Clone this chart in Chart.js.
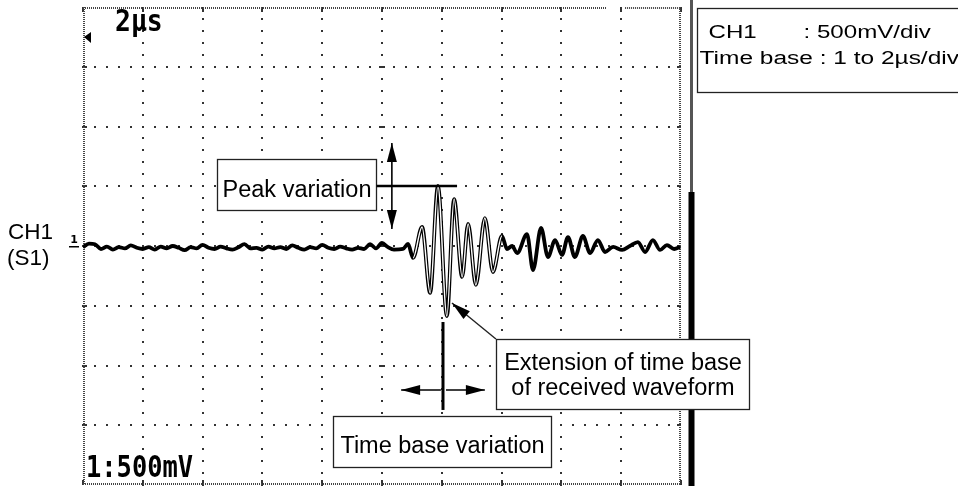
<!DOCTYPE html>
<html>
<head>
<meta charset="utf-8">
<script src="https://cdn.jsdelivr.net/npm/chart.js@4.4.0/dist/chart.umd.min.js"></script>
<style>
  body { margin: 0; background: #fff; }
  #wrap { width: 958px; height: 486px; }
</style>
</head>
<body>
<div id="wrap"><canvas id="scopeChart" width="958" height="486"></canvas></div>
<script>
// CH1 trace: time in us, level in mV
const timeUs = [
  0.0, 0.2, 0.4, 0.6, 0.8, 1.0, 1.2, 1.4, 1.6, 1.8,
  2.0, 2.2, 2.4, 2.6, 2.8, 3.0, 3.2, 3.4, 3.6, 3.8,
  4.0, 4.2, 4.4, 4.6, 4.8, 5.0, 5.2, 5.4, 5.6, 5.8,
  6.0, 6.2, 6.4, 6.6, 6.8, 7.0, 7.2, 7.4, 7.6, 7.8,
  8.0, 8.2, 8.4, 8.6, 8.8, 9.0, 9.2, 9.4, 9.6, 9.8,
  10.0, 10.2, 10.4, 10.7, 10.87, 11.04, 11.34, 11.61, 11.87, 12.17,
  12.41, 12.68, 12.88, 13.14, 13.44, 13.71, 14.01, 14.18, 14.35, 14.52,
  14.85, 15.05, 15.32, 15.55, 15.79, 16.02, 16.22, 16.45, 16.72, 16.96,
  17.22, 17.46, 17.73, 18.03, 18.29, 18.56, 18.80, 19.06, 19.30, 19.53,
  19.77, 19.97
];
const ch1mV = [
  -10, 20, 15, -25, -5, -30, -10, -20, 5, -15,
  -25, -10, -30, -5, -20, 0, -15, -35, -10, -20,
  10, -15, -25, -5, -20, -30, -10, 15, -20, -15,
  -30, -5, -20, -10, -25, 5, -15, -30, -10, -20,
  10, -15, -25, -5, -20, -30, -15, -25, 15, -20,
  25, -10, -30, -25, 17, -100, 159, -393, 502, -586,
  393, -259, 184, -326, 234, -218, 84, -25, 0, -59,
  100, -201, 151, -92, 50, -75, 75, -92, 84, -59,
  50, -50, -8, -33, 0, 33, -50, 50, -33, 8,
  -25, -8
];
const timeTicks = [0, 2, 4, 6, 8, 10, 12, 14, 16, 18, 20];
const voltTicks = [-2000, -1500, -1000, -500, 0, 500, 1000, 1500, 2000];
const peakLevel = 502;
const scopeText = ["2µs", "1:500mV"];
const sideText = ["CH1", "(S1)"];
const legendText = ["CH1", ": 500mV/div", "Time base : 1 to 2µs/div"];
const peakNote = "Peak variation";
const timeNote = "Time base variation";
const extNote = ["Extension of time base", "of received waveform"];

const points = timeUs.map((t, i) => ({ x: t, y: ch1mV[i] }));

function arrowHead(ctx, x0, y0, x1, y1, len, half) {
  const a = Math.atan2(y1 - y0, x1 - x0);
  ctx.beginPath();
  ctx.moveTo(x1, y1);
  ctx.lineTo(x1 - len * Math.cos(a) + half * Math.sin(a), y1 - len * Math.sin(a) - half * Math.cos(a));
  ctx.lineTo(x1 - len * Math.cos(a) - half * Math.sin(a), y1 - len * Math.sin(a) + half * Math.cos(a));
  ctx.closePath();
  ctx.fill();
}

function arrow(ctx, x0, y0, x1, y1) {
  ctx.beginPath();
  ctx.moveTo(x0, y0);
  ctx.lineTo(x1, y1);
  ctx.stroke();
  arrowHead(ctx, x0, y0, x1, y1, 19, 5);
}

function text(ctx, s, x, y, font, align, sx) {
  ctx.save();
  ctx.font = font;
  ctx.textAlign = align || "left";
  ctx.textBaseline = "alphabetic";
  ctx.translate(x, y);
  ctx.scale(sx || 1, 1);
  ctx.fillText(s, 0, 0);
  ctx.restore();
}

const scopePlugin = {
  id: "scope",
  beforeDatasetsDraw(chart) {
    const ctx = chart.ctx, ca = chart.chartArea;
    const xs = chart.scales.x, ys = chart.scales.y;
    ctx.save();
    ctx.fillStyle = "#333";
    // dotted graticule, 5 dots per division
    for (let i = 1; i < timeTicks.length - 1; i++) {
      const x = Math.round(xs.getPixelForValue(timeTicks[i]));
      for (let j = 0; j < voltTicks.length - 1; j++) {
        for (let k = 0; k < 5; k++) {
          const v = voltTicks[j] + (voltTicks[j + 1] - voltTicks[j]) * k / 5;
          ctx.fillRect(x - 1, Math.round(ys.getPixelForValue(v)) - 1, 2, 2);
        }
      }
    }
    for (let j = 1; j < voltTicks.length - 1; j++) {
      const y = Math.round(ys.getPixelForValue(voltTicks[j]));
      for (let i = 0; i < timeTicks.length - 1; i++) {
        for (let k = 0; k < 5; k++) {
          const t = timeTicks[i] + (timeTicks[i + 1] - timeTicks[i]) * k / 5;
          ctx.fillRect(Math.round(xs.getPixelForValue(t)) - 1, y - 1, 2, 2);
        }
      }
      // small marks on the centre axis and frame sides
      const xc = xs.getPixelForValue(10);
      ctx.fillRect(xc - 3, y - 1, 6, 2);
      ctx.fillRect(ca.left, y - 1, 4, 2);
      ctx.fillRect(ca.right - 4, y - 1, 4, 2);
    }
    timeTicks.forEach(t => {
      const x = Math.round(xs.getPixelForValue(t));
      ctx.fillRect(x - 1, ca.top, 2, 5);
      ctx.fillRect(x - 1, ca.bottom - 5, 2, 5);
    });
    // frame
    ctx.strokeStyle = "#444";
    ctx.lineWidth = 2;
    ctx.setLineDash([1, 1]);
    const gap0 = xs.getPixelForValue(17.52), gap1 = xs.getPixelForValue(18.13);
    ctx.beginPath();
    ctx.moveTo(ca.left, ca.top + 1); ctx.lineTo(gap0, ca.top + 1);
    ctx.moveTo(gap1, ca.top + 1); ctx.lineTo(ca.right, ca.top + 1);
    ctx.moveTo(ca.left + 1, ca.top); ctx.lineTo(ca.left + 1, ca.bottom);
    ctx.moveTo(ca.right - 1, ca.top); ctx.lineTo(ca.right - 1, ca.bottom);
    ctx.moveTo(ca.left, ca.bottom - 1); ctx.lineTo(ca.right, ca.bottom - 1);
    ctx.stroke();
    ctx.setLineDash([]);

    // separator bar at the right of the screen (boxes are drawn over it)
    const bx = ca.right + 10.5;
    ctx.strokeStyle = "#555";
    ctx.lineWidth = 3;
    ctx.beginPath();
    ctx.moveTo(bx, 0);
    ctx.lineTo(bx, 193);
    ctx.stroke();
    ctx.strokeStyle = "#000";
    ctx.lineWidth = 6;
    ctx.beginPath();
    ctx.moveTo(bx, 192);
    ctx.lineTo(bx, chart.height);
    ctx.stroke();
    ctx.restore();
  },
  afterDatasetsDraw(chart) {
    const ctx = chart.ctx;
    const xs = chart.scales.x, ys = chart.scales.y;
    const X = v => xs.getPixelForValue(v), Y = v => ys.getPixelForValue(v);
    const noteFont = "23.5px 'Liberation Sans', Arial, sans-serif";
    ctx.save();

    const box = (t0, v0, t1, v1) => {
      const x0 = Math.round(X(t0)) + 0.5, y0 = Math.round(Y(v0)) + 0.5;
      const x1 = Math.round(X(t1)) + 0.5, y1 = Math.round(Y(v1)) + 0.5;
      ctx.fillStyle = "#fff";
      ctx.fillRect(x0, y0, x1 - x0, y1 - y0);
      ctx.strokeStyle = "#222";
      ctx.lineWidth = 1.3;
      ctx.strokeRect(x0, y0, x1 - x0, y1 - y0);
      return { x0, y0, x1, y1 };
    };

    // peak variation
    const pb = box(4.48, 728, 9.80, 301);
    ctx.fillStyle = "#000";
    text(ctx, peakNote, (pb.x0 + pb.x1) / 2, pb.y0 + 37, noteFont, "center");
    ctx.strokeStyle = "#000";
    ctx.lineWidth = 2.5;
    ctx.beginPath();
    ctx.moveTo(pb.x1, Y(peakLevel));
    ctx.lineTo(X(12.51), Y(peakLevel));
    ctx.stroke();
    ctx.lineWidth = 1.6;
    arrow(ctx, X(10.33), Y(peakLevel), X(10.33), Y(862));
    arrow(ctx, X(10.33), Y(peakLevel), X(10.33), Y(142));

    // time base variation
    ctx.lineWidth = 3;
    ctx.beginPath();
    ctx.moveTo(X(12.04), Y(-636));
    ctx.lineTo(X(12.04), Y(-1372));
    ctx.stroke();
    ctx.lineWidth = 1.6;
    arrow(ctx, X(11.97), Y(-1205), X(10.64), Y(-1205));
    arrow(ctx, X(12.14), Y(-1205), X(13.44), Y(-1205));
    const tb = box(8.36, -1423, 15.65, -1849);
    ctx.fillStyle = "#000";
    text(ctx, timeNote, (tb.x0 + tb.x1) / 2, tb.y0 + 36, noteFont, "center");

    // extension of time base
    ctx.lineWidth = 1.4;
    arrow(ctx, X(13.81), Y(-778), X(12.34), Y(-477));
    const eb = box(13.81, -778, 22.27, -1364);
    ctx.fillStyle = "#000";
    text(ctx, extNote[0], (eb.x0 + eb.x1) / 2, eb.y0 + 30, noteFont, "center");
    text(ctx, extNote[1], (eb.x0 + eb.x1) / 2, eb.y0 + 55, noteFont, "center");
    ctx.restore();
  },
  afterDraw(chart) {
    const ctx = chart.ctx, ca = chart.chartArea;
    const ys = chart.scales.y;
    const sans = "'Liberation Sans', Arial, sans-serif";
    ctx.save();
    ctx.fillStyle = "#000";

    // on-screen scope readouts
    text(ctx, scopeText[0], ca.left + 32, ca.top + 24, "bold 30px 'DejaVu Sans Mono', monospace", "left", 0.88);
    text(ctx, scopeText[1], ca.left + 3, ca.bottom - 8, "bold 31px 'DejaVu Sans Mono', monospace", "left", 0.82);

    // trigger marker
    ctx.beginPath();
    ctx.moveTo(ca.left + 1, ca.top + 30);
    ctx.lineTo(ca.left + 8, ca.top + 25);
    ctx.lineTo(ca.left + 8, ca.top + 36);
    ctx.closePath();
    ctx.fill();

    // channel 1 ground marker
    const y0 = ys.getPixelForValue(0);
    text(ctx, "1", ca.left - 9, y0 - 3, "bold 11px 'DejaVu Sans', sans-serif", "center");
    ctx.fillRect(ca.left - 14, y0, 10, 1.5);

    // side label
    text(ctx, sideText[0], 8, y0 - 7, "22.5px " + sans, "left");
    text(ctx, sideText[1], 7, y0 + 19, "22.5px " + sans, "left");

    // settings legend
    const lx = ca.right + 16.5;
    ctx.strokeStyle = "#222";
    ctx.lineWidth = 1.3;
    ctx.strokeRect(lx, 8.5, 300, 84);
    text(ctx, legendText[0], lx + 11, 38, "18px " + sans, "left", 1.34);
    text(ctx, legendText[1], lx + 106, 38, "18px " + sans, "left", 1.34);
    text(ctx, legendText[2], lx + 2, 64, "18px " + sans, "left", 1.36);
    ctx.restore();
  }
};

new Chart(document.getElementById("scopeChart"), {
  type: "line",
  data: {
    datasets: [
      {
        // thin white core makes the large swings look like an outlined trace
        data: points,
        borderColor: "#fff",
        borderWidth: 1.4,
        pointRadius: 0,
        cubicInterpolationMode: "monotone",
        order: 1,
        segment: {
          borderColor: c => (c.p0.parsed.x >= 11.0 && c.p1.parsed.x <= 14.1) ? "#fff" : "rgba(0,0,0,0)"
        }
      },
      {
        data: points,
        borderColor: "#000",
        borderWidth: 3.8,
        pointRadius: 0,
        cubicInterpolationMode: "monotone",
        order: 2
      }
    ]
  },
  options: {
    responsive: false,
    animation: false,
    layout: { padding: { left: 83, right: 277, top: 7, bottom: 1 } },
    plugins: { legend: { display: false }, tooltip: { enabled: false } },
    scales: {
      x: { type: "linear", min: 0, max: 20, display: false },
      y: { min: -2000, max: 2000, display: false }
    }
  },
  plugins: [scopePlugin]
});
</script>
</body>
</html>
